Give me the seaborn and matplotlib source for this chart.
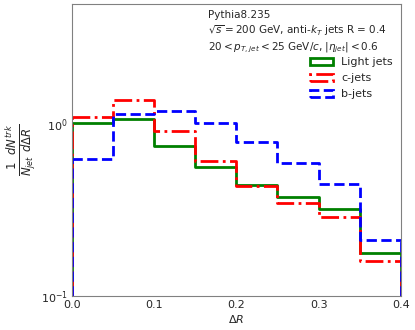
import matplotlib.pyplot as plt
import seaborn as sns
import numpy as np
from matplotlib.patches import Patch

# Bin edges in Delta R
edges = [0.0, 0.05, 0.1, 0.15, 0.2, 0.25, 0.3, 0.35, 0.4]

# Normalised track distributions per jet flavour
light = [1.01, 1.07, 0.75, 0.56, 0.445, 0.375, 0.32, 0.178]
charm = [1.10, 1.38, 0.915, 0.61, 0.435, 0.346, 0.287, 0.159]
bottom = [0.63, 1.15, 1.19, 1.01, 0.786, 0.596, 0.448, 0.213]

labels = ["Light jets", "c-jets", "b-jets"]
colors = ["green", "red", "blue"]
styles = ["-", "-.", "--"]

sns.set_style("white")

fig = plt.figure(figsize=(4.15, 3.3), dpi=100)
ax = fig.add_axes([0.173, 0.103, 0.793, 0.885])

centers = [(a + b) / 2 for a, b in zip(edges[:-1], edges[1:])]
ymin = 0.1

for vals, lab, col, ls in zip([light, charm, bottom], labels, colors, styles):
    sns.histplot(x=centers, weights=vals, bins=edges, element="step", fill=False,
                 color=col, linestyle=ls, linewidth=2, ax=ax)
    # closing vertical edges of the step outline
    ax.vlines([edges[0]], ymin, vals[0], colors=col, linestyles=ls, linewidth=2)
    ax.vlines([edges[-1]], ymin, vals[-1], colors=col, linestyles=ls, linewidth=2)

ax.set_yscale("log")
ax.set_xlim(0, 0.4)
ax.set_ylim(0.1, 5)
ax.set_xticks([0.0, 0.1, 0.2, 0.3, 0.4])
ax.tick_params(direction="in", length=3, color="gray", labelsize=8, pad=3)
ax.tick_params(which="minor", direction="in", length=1.5, color="gray")
for s in ax.spines.values():
    s.set_color("gray")

ax.set_xlabel(r"$\Delta R$", fontsize=8, labelpad=2)
ax.set_ylabel(r"$\frac{1}{N_{jet}}\frac{dN^{trk}}{d\Delta R}$", fontsize=12, labelpad=2)

ax.text(0.413, 0.978, "Pythia8.235\n"
        r"$\sqrt{s}=200$ GeV, anti-$k_T$ jets R = 0.4" "\n"
        r"$20 < p_{T,jet} < 25$ GeV/$c$, $|\eta_{jet}| < 0.6$",
        transform=ax.transAxes, ha="left", va="top", fontsize=7.5, linespacing=1.3)

handles = [Patch(facecolor="none", edgecolor=c, linestyle=ls, linewidth=2)
           for c, ls in zip(colors, styles)]
ax.legend(handles, labels, loc="upper right", bbox_to_anchor=(1.0, 0.845),
          frameon=False, fontsize=8, handlelength=2.0, handleheight=0.6,
          labelspacing=0.55, borderaxespad=0.3)

fig.savefig("out.png", dpi=100)
